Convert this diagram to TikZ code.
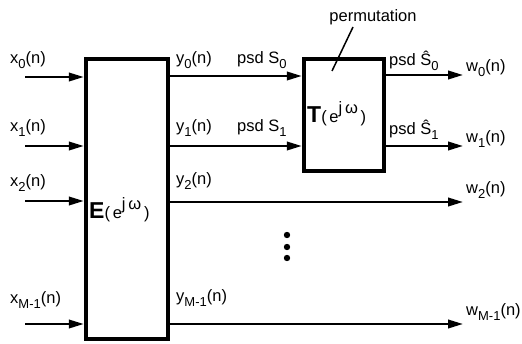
\documentclass[tikz,border=0pt]{standalone}
\usepackage{fontspec}
\setmainfont{Liberation Sans}
\usepackage{tikz}
\usetikzlibrary{arrows.meta,positioning}

\newcommand{\lowidx}[2]{#1\raisebox{-0.55ex}{\fontsize{13}{13}\selectfont #2}}
\newcommand{\ejw}{(\,e\raisebox{1.0ex}{j\,ω}\,)}

\begin{document}
\begin{tikzpicture}[
  x=1pt,y=-1pt,
  font=\fontsize{16.5}{19}\selectfont,
  blk/.style={rectangle,draw,line width=4.5pt,inner sep=0pt},
  lbl/.style={anchor=west,inner sep=0pt},
  arr/.style={-{Triangle[length=15pt,width=8.5pt]},line width=2.3pt}
]
\useasboundingbox (0,0) rectangle (522,343);

% filter blocks
\node[blk,minimum width=82pt,minimum height=280pt] (E) at (127,199) {};
\node[blk,minimum width=80pt,minimum height=112pt] (T) at (344,115) {};
\node[lbl] (Elbl) at (89,210) {{\fontsize{23}{23}\selectfont\bfseries E}\ejw};
\node[lbl] (Tlbl) at (307,114) {{\fontsize{23}{23}\selectfont\bfseries T}\ejw};

% inputs
\coordinate (in0) at (25,77);
\coordinate (in1) at (25,146);
\coordinate (in2) at (25,201);
\coordinate (in3) at (25,324);
\node[lbl] (x0) at (10,60)  {\lowidx{x}{0}(n)};
\node[lbl] (x1) at (10,128) {\lowidx{x}{1}(n)};
\node[lbl] (x2) at (10,183) {\lowidx{x}{2}(n)};
\node[lbl] (x3) at (10,300) {\lowidx{x}{M-1}(n)};
\foreach \i in {0,...,3}
  \draw[arr] (in\i) -- (in\i -| E.west);

% outputs of E
\coordinate (o0) at (E.east |- 0,76);
\coordinate (o1) at (E.east |- 0,146);
\coordinate (o2) at (E.east |- 0,202);
\coordinate (o3) at (E.east |- 0,324);
\coordinate (end2) at (463,202);
\coordinate (end3) at (463,324);
\node[lbl] (y0) at (176,60)  {\lowidx{y}{0}(n)};
\node[lbl] (y1) at (176,128) {\lowidx{y}{1}(n)};
\node[lbl] (y2) at (176,181) {\lowidx{y}{2}(n)};
\node[lbl] (y3) at (176,298) {\lowidx{y}{M-1}(n)};
\node[lbl] (s0) at (237,60)  {psd \lowidx{S}{0}};
\node[lbl] (s1) at (237,128) {psd \lowidx{S}{1}};
\draw[arr] (o0) -- (o0 -| T.west);
\draw[arr] (o1) -- (o1 -| T.west);
\draw[arr] (o2) -- (end2);
\draw[arr] (o3) -- (end3);

% outputs of T
\coordinate (t0) at (463,75);
\coordinate (t1) at (463,146);
\node[lbl] (h0) at (389,61)  {psd \lowidx{Ŝ}{0}};
\node[lbl] (h1) at (389,130) {psd \lowidx{Ŝ}{1}};
\draw[arr] (T.east |- t0) -- (t0);
\draw[arr] (T.east |- t1) -- (t1);
\node[lbl] (w0) at (466,68)  {\lowidx{w}{0}(n)};
\node[lbl] (w1) at (466,139) {\lowidx{w}{1}(n)};
\node[lbl] (w2) at (466,190) {\lowidx{w}{2}(n)};
\node[lbl] (w3) at (466,312) {\lowidx{w}{M-1}(n)};

% permutation note
\node (perm) at (373,17) {permutation};
\coordinate (pin) at (332,71);
\draw[line width=1.5pt] (353,27) -- (pin);

% dots
\foreach \yy in {235,247,258}
  \fill (287,\yy) circle (3.2pt);
\end{tikzpicture}
\end{document}
